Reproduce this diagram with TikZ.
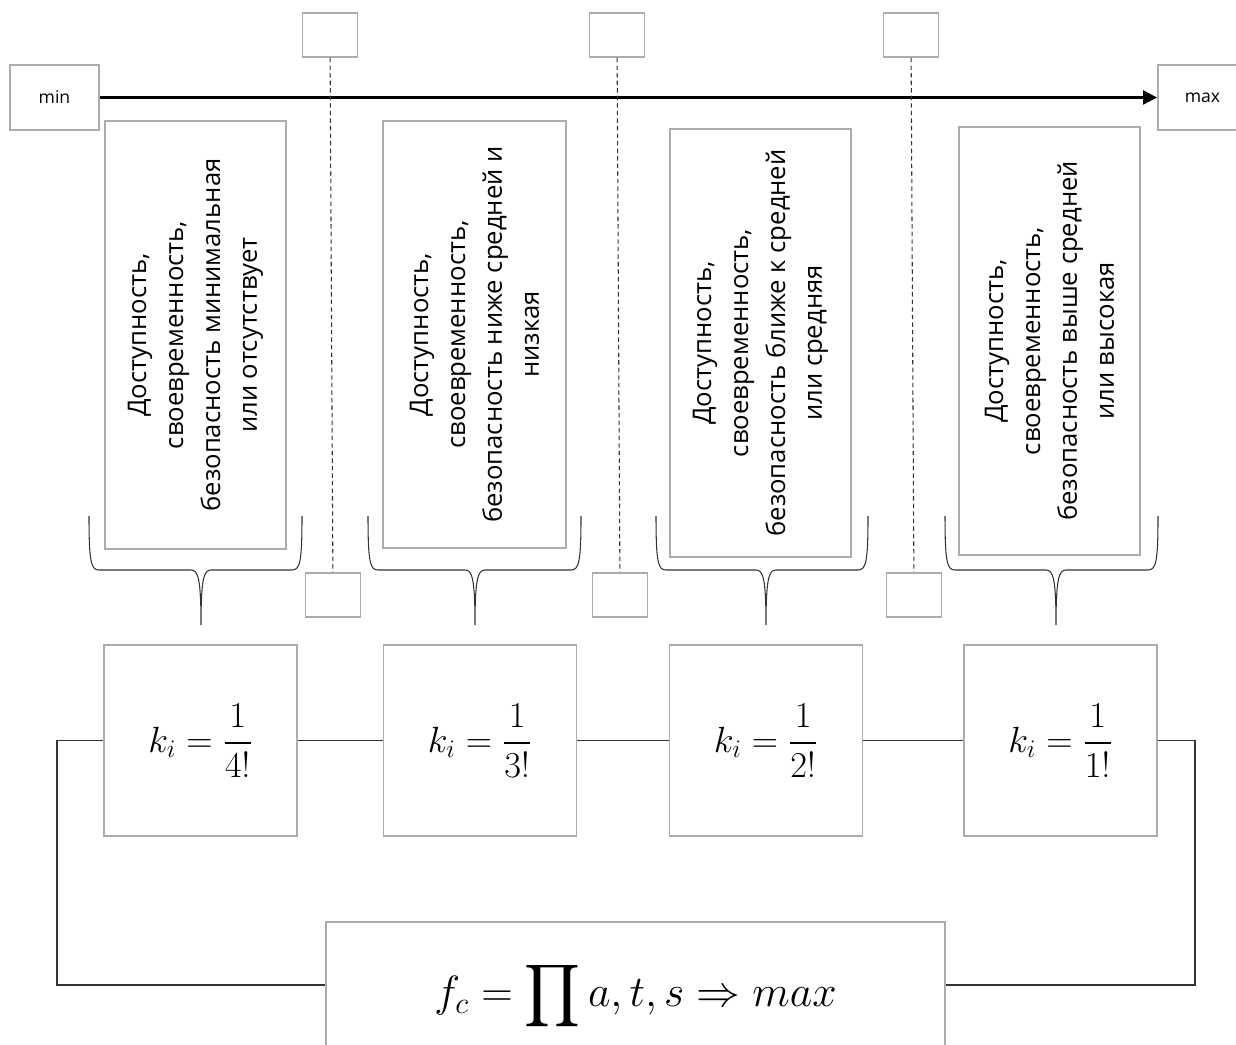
\documentclass[tikz,border=0pt]{standalone}
\usepackage[no-math]{fontspec}
\setmainfont{Open Sans}
\usepackage{amsmath}
\usetikzlibrary{arrows.meta}

\tikzset{
  grbox/.style={draw=gray!65, line width=1.1pt, fill=white, inner sep=0pt},
  lnk/.style={draw=black!80, line width=0.6pt},
  guide/.style={draw=black!80, line width=0.6pt, dash pattern=on 2.5pt off 1.8pt},
}

\begin{document}
\begin{tikzpicture}[x=0.02cm,y=-0.02cm,font=\fontsize{14.6}{21}\selectfont]
\useasboundingbox (0,0) rectangle (1236,1044);

% axis min -> max
\node[grbox,minimum width=1.78cm,minimum height=1.3cm,font=\fontsize{10}{12}\selectfont] (min) at (54.5,97.5) {min};
\node[grbox,minimum width=1.78cm,minimum height=1.3cm,font=\fontsize{10}{12}\selectfont] (max) at (1202.5,97.5) {max};
\draw[line width=1.2pt,-{Triangle[length=8pt,width=8pt]}] (min) -- (max);

% small boxes and dashed borders
\foreach \n/\xt/\xb in {1/330/333, 2/617/620, 3/911/914} {
  \node[grbox,minimum width=1.1cm,minimum height=0.88cm] (top\n) at (\xt,35) {};
  \node[grbox,minimum width=1.1cm,minimum height=0.88cm] (bot\n) at (\xb,595) {};
  \draw[guide] (top\n) -- (bot\n);
}

% levels
\node[grbox,rotate=90,minimum width=8.56cm,minimum height=3.62cm,align=center] (txt1) at (195.5,335)
  {Доступность,\\своевременность,\\безопасность минимальная\\или отсутствует};
\node[grbox,rotate=90,minimum width=8.54cm,minimum height=3.66cm,align=center] (txt2) at (474.5,334.5)
  {Доступность,\\своевременность,\\безопасность ниже средней и\\низкая};
\node[grbox,rotate=90,minimum width=8.56cm,minimum height=3.62cm,align=center] (txt3) at (760.5,343)
  {Доступность,\\своевременность,\\безопасность ближе к средней\\или средняя};
\node[grbox,rotate=90,minimum width=8.56cm,minimum height=3.62cm,align=center] (txt4) at (1049.5,341)
  {Доступность,\\своевременность,\\безопасность выше средней\\или высокая};

% braces
\foreach \xl/\xm/\xr in {89/201/302, 368/475/581, 656/766/868, 945/1056/1158}
  \draw[lnk] (\xl,516) .. controls (\xl,562) and (\xl+2,570) .. (\xl+10,570) -- (\xm-10,570)
    .. controls (\xm-3,570) and (\xm,578) .. (\xm,625)
    .. controls (\xm,578) and (\xm+3,570) .. (\xm+10,570) -- (\xr-10,570)
    .. controls (\xr-2,570) and (\xr,562) .. (\xr,516);

% coefficients
\begin{scope}[every node/.style={grbox,minimum width=3.86cm,minimum height=3.82cm,font=\fontsize{21}{25}\selectfont}]
\node (k1) at (200.5,740.5) {$k_i=\dfrac{1}{4!}$};
\node (k2) at (480,740.5) {$k_i=\dfrac{1}{3!}$};
\node (k3) at (766,740.5) {$k_i=\dfrac{1}{2!}$};
\node (k4) at (1060.5,740.5) {$k_i=\dfrac{1}{1!}$};
\end{scope}
\draw[lnk] (k1) -- (k2) (k2) -- (k3) (k3) -- (k4);

% goal function
\node[grbox,minimum width=12.38cm,minimum height=2.96cm,font=\fontsize{24}{28}\selectfont] (fml) at (635.5,996)
  {$\displaystyle f_c=\prod a,t,s\Rightarrow max$};
\coordinate (lft) at (57,985);
\coordinate (rgt) at (1195,985);
\draw[lnk] (k1.west) -| (lft) -- (lft -| fml.west);
\draw[lnk] (k4.east) -| (rgt) -- (rgt -| fml.east);

\end{tikzpicture}
\end{document}
